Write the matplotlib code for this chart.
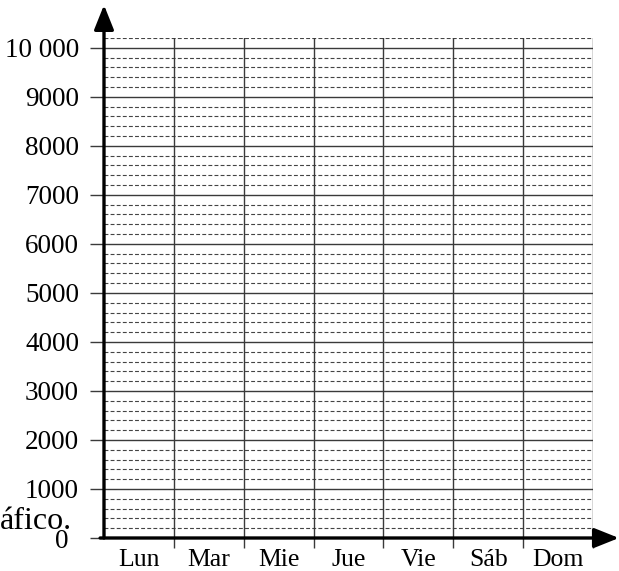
import numpy as np
import matplotlib.pyplot as plt
from matplotlib.transforms import ScaledTranslation

# Chart data (empty grid to be filled in)
days = ["Lun", "Mar", "Mie", "Jue", "Vie", "Sáb", "Dom"]
major_values = [0, 1000, 2000, 3000, 4000, 5000, 6000, 7000, 8000, 9000, 10000]
major_labels = ["0", "1000", "2000", "3000", "4000", "5000", "6000", "7000",
                "8000", "9000", "10 000"]
minor_step = 200
y_max = 10200

plt.rcParams["font.family"] = ["Liberation Serif", "DejaVu Serif"]

fig = plt.figure(figsize=(6.19, 5.71), dpi=100)
ax = fig.add_axes([104 / 619, 33 / 571, 489 / 619, 500 / 571])

ax.set_xlim(0, len(days))
ax.set_ylim(0, y_max)

grid_color = "#3a3a3a"

# dotted minor lines every 200
for v in np.arange(minor_step, y_max + 1, minor_step):
    if v % 1000 != 0:
        ax.axhline(v, color="#444444", lw=0.8, dashes=(3.5, 2), zorder=1)

# solid major lines
for v in major_values[1:]:
    ax.axhline(v, color=grid_color, lw=1.0, zorder=2)

# vertical day separators
for i in range(1, len(days) + 1):
    ax.axvline(i, color=grid_color, lw=1.0, zorder=2)

for s in ["top", "right", "left", "bottom"]:
    ax.spines[s].set_visible(False)

# y ticks
ax.set_yticks(major_values)
ax.set_yticklabels(major_labels, fontsize=19.5)
ax.tick_params(axis="y", direction="out", length=10, width=1.0,
               color=grid_color, pad=8)
zero = ax.get_yticklabels()[0]
zero.set_transform(zero.get_transform()
                   + ScaledTranslation(-0.10, 0.0, fig.dpi_scale_trans))

# x ticks: separators as major ticks, day names as minor ticks
ax.set_xticks(range(1, len(days) + 1))
ax.set_xticklabels([""] * len(days))
ax.tick_params(axis="x", which="major", direction="out", length=7.5,
               width=1.0, color=grid_color)
ax.set_xticks(np.arange(len(days)) + 0.5, minor=True)
ax.set_xticklabels(days, minor=True, fontsize=18.5)
ax.tick_params(axis="x", which="minor", length=0, pad=8)

# axis arrows
arrow = dict(arrowstyle="-|>,head_width=0.3,head_length=0.75", lw=2.4,
             color="black", shrinkA=0, shrinkB=0, mutation_scale=20)
ax.annotate("", xy=(0, 1.066), xytext=(0, 0), xycoords="axes fraction",
            arrowprops=arrow, annotation_clip=False, zorder=5)
ax.annotate("", xy=(1.053, 0), xytext=(-0.008, 0), xycoords="axes fraction",
            arrowprops=arrow, annotation_clip=False, zorder=5)

# stray text from the source page
fig.text(0, 1 - 529 / 571, "áfico.", fontsize=23, ha="left", va="baseline")

fig.savefig("out.png", dpi=100)
